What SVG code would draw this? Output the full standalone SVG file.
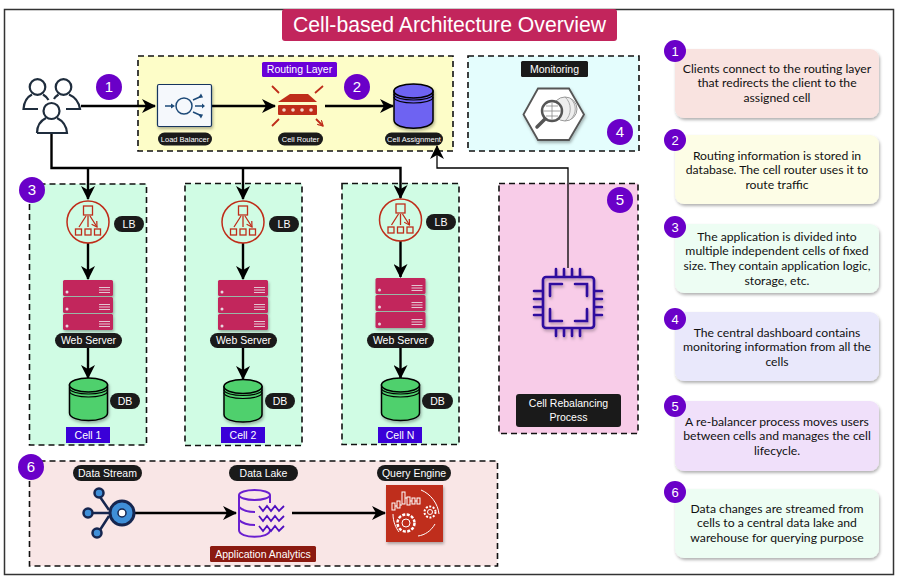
<svg xmlns="http://www.w3.org/2000/svg" width="902" height="583" viewBox="0 0 902 583">
<style>
text{font-family:"Liberation Sans",Arial,sans-serif;text-anchor:middle}
.zone{stroke:#111;stroke-width:1.6;stroke-dasharray:6 4}
.pill{fill:#1a1a1a}
.lt{fill:#fff;font-size:10.5px}
.st{fill:#fff;font-size:7.5px}
.badge{fill:#6a00c8}
.bt{fill:#fff;font-size:15px}
.card{filter:url(#sh)}
.ct{font-family:"Lato","Open Sans",sans-serif;font-size:12.2px;fill:#111}
.conn{fill:none;stroke:#000;stroke-width:2.4}
.thin{fill:none;stroke:#000;stroke-width:1.3}
.red{fill:none;stroke:#bf2d1a}
.chip{fill:none;stroke:#2e0f9e;stroke-width:2.6;stroke-linecap:round}
</style>
<defs>
<filter id="sh" x="-10%" y="-10%" width="125%" height="130%"><feDropShadow dx="1" dy="2" stdDeviation="1.5" flood-color="#000" flood-opacity=".3"/></filter>
<marker id="ah" viewBox="0 0 14 14" refX="13" refY="7" markerWidth="14" markerHeight="14" markerUnits="userSpaceOnUse" orient="auto"><path d="M0 0L14 7L0 14L4 7Z" fill="#000"/></marker>
<marker id="rh" viewBox="0 0 8 8" refX="7" refY="4" markerWidth="7" markerHeight="7" markerUnits="userSpaceOnUse" orient="auto"><path d="M1 .5L7 4L1 7.5" fill="none" stroke="#bf2d1a" stroke-width="1.4"/></marker>
<g id="lbIcon">
<circle cx="0" cy="0" r="21" fill="none" stroke="#bf2d1a" stroke-width="1.5"/>
<g class="red" stroke-width="1.3">
<rect x="-4.5" y="-16" width="9" height="9"/>
<rect x="-12.5" y="7" width="6" height="6"/><rect x="-3" y="7" width="6" height="6"/><rect x="6.500" y="7" width="6" height="6"/>
<path d="M-2-6L-9 5M0-6V5M2-6L9 5" marker-end="url(#rh)"/>
</g>
</g>
<g id="server">
<g fill="#c2255c" filter="url(#sh)"><rect x="-25" y="0" width="50" height="16" rx="1.500"/><rect x="-25" y="17" width="50" height="16" rx="1.500"/><rect x="-25" y="34" width="50" height="16" rx="1.500"/></g>
<g fill="#e8d8e0"><circle cx="-21" cy="12" r="1.500"/><circle cx="-21" cy="29" r="1.500"/><circle cx="-21" cy="46" r="1.500"/></g>
<path d="M11 7.500H22M11 10H22M11 12.500H22M11 24.500H22M11 27H22M11 29.500H22M11 41.500H22M11 44H22M11 46.500H22" stroke="#e8d8e0" stroke-width=".9"/>
</g>
<g id="db">
<g filter="url(#sh)"><path d="M-19 7V35C-19 45 19 45 19 35V7Z" fill="#4fd06d" stroke="#000" stroke-width="1.500"/><ellipse cx="0" cy="7" rx="19" ry="7" fill="#4fd06d" stroke="#000" stroke-width="1.500"/></g>
<path d="M-19 10C-19 18 19 18 19 10M-19 13C-19 21 19 21 19 13" fill="none" stroke="#000" stroke-width="1.200"/>
</g>
</defs>
<rect width="902" height="583" fill="#fff"/>
<rect id="frame" x="4.500" y="9.500" width="889" height="565" fill="#fff" stroke="#333" stroke-width="1.500"/>
<g id="title"><rect x="282" y="9" width="335" height="32" rx="3" fill="#c2255c"/><text x="449.500" y="32" font-size="21.200" fill="#fff">Cell-based Architecture Overview</text></g>

<g id="routing-zone"><rect class="zone" x="138" y="56" width="315" height="95" fill="#fdfdc8"/></g>
<g id="monitoring-zone"><rect class="zone" x="468" y="56" width="171" height="95" fill="#e4fdfd"/></g>
<g id="cell1-zone"><rect class="zone" x="29.500" y="184" width="117" height="261" fill="#d0fce4"/></g>
<g id="cell2-zone"><rect class="zone" x="185" y="183.500" width="117" height="262" fill="#d0fce4"/></g>
<g id="cellN-zone"><rect class="zone" x="342" y="183.500" width="117" height="261" fill="#d0fce4"/></g>
<g id="rebalance-zone"><rect class="zone" x="499" y="183.500" width="139" height="250" fill="#f8cce8"/></g>
<g id="analytics-zone"><rect class="zone" x="29.500" y="461" width="468" height="105" fill="#f9e6e6"/></g>

<g id="connectors">
<path class="conn" d="M81 106H155" marker-end="url(#ah)"/>
<path class="conn" d="M212 106H275" marker-end="url(#ah)"/>
<path class="conn" d="M325 106H393" marker-end="url(#ah)"/>
<path class="conn" d="M51.500 133V168H400.500V198" marker-end="url(#ah)"/>
<path class="conn" d="M88 168V199" marker-end="url(#ah)"/>
<path class="conn" d="M243 168V199" marker-end="url(#ah)"/>
<path class="thin" d="M568 268V168H437V146" marker-end="url(#ah)"/>
<path class="conn" d="M88 243V279" marker-end="url(#ah)"/>
<path class="conn" d="M243 243V279" marker-end="url(#ah)"/>
<path class="conn" d="M400.500 241V277" marker-end="url(#ah)"/>
<path class="conn" d="M88 348V378" marker-end="url(#ah)"/>
<path class="conn" d="M243 348V379" marker-end="url(#ah)"/>
<path class="conn" d="M400.500 348V378" marker-end="url(#ah)"/>
<path class="conn" d="M135 513H236" marker-end="url(#ah)"/>
<path class="conn" d="M292 513H385" marker-end="url(#ah)"/>
</g>

<g id="clients" fill="none" stroke="#1f2d3d" stroke-width="2.200">
<circle cx="37.500" cy="87" r="7.800"/><circle cx="63.500" cy="87" r="7.800"/>
<path d="M38 109H23.500C24 102 27 97 32 94.500M43 94.500C45.500 96 47 97.500 48.500 100M54 99C55 97 57 95.500 58.500 94.500M69 94.500C75 97 79 103 80 109H66"/>
<circle cx="51.500" cy="111" r="8" fill="#fff"/>
<path d="M37 133C37 126 40 121 46 118M57 118C63 121 66.500 126 67 133H37" fill="#fff"/>
</g>
<g id="badge1"><circle class="badge" cx="109" cy="87" r="13"/><text class="bt" x="109" y="92">1</text></g>

<g id="routing-label"><rect x="262" y="62" width="75" height="15" rx="1.500" fill="#6a00d8"/><text class="lt" x="299.500" y="73">Routing Layer</text></g>
<g id="load-balancer">
<rect x="157.500" y="84.500" width="54" height="42" rx="1.500" fill="#f5f8fc" stroke="#16355e" stroke-width="1.200" filter="url(#sh)"/>
<g fill="none" stroke="#1d4a78" stroke-width="1.500"><circle cx="184" cy="106" r="8"/><path d="M165 106H173M195 106H204M193 100L202 96M193 112L202 116"/></g>
<path d="M171 103.500L175 106L171 108.500ZM201 93.500L203 97.500L198 98ZM202 103.500L205 106L202 108.500ZM198 114L203 114.500L201 118.500Z" fill="#1d4a78"/>
<rect class="pill" x="158" y="132.500" width="54" height="13" rx="6.500"/><text class="st" x="185" y="141.500">Load Balancer</text>
</g>
<g id="cell-router">
<path d="M278 102L290 94H308L317 102Z" fill="#bf2d1a"/><rect x="278" y="105" width="39" height="10" rx="1" fill="#bf2d1a"/>
<g fill="#f4d6c8"><circle cx="284" cy="110" r="1.800"/><circle cx="293" cy="110" r="1.800"/><circle cx="302" cy="110" r="1.800"/><circle cx="311" cy="110" r="1.800"/></g>
<path d="M279 93L272 86M315 93L323 86M279 119L272 126M316 119L323 126" stroke="#bf2d1a" stroke-width="1.800" fill="none" marker-end="url(#rh)"/>
<rect class="pill" x="278" y="132.500" width="45" height="13" rx="6.500"/><text class="st" x="300.500" y="141.500">Cell Router</text>
</g>
<g id="badge2"><circle class="badge" cx="357" cy="87" r="13"/><text class="bt" x="357" y="92">2</text></g>
<g id="cell-assignment">
<g filter="url(#sh)"><path d="M394 91V120C394 131 433 131 433 120V91Z" fill="#6e63f2" stroke="#000" stroke-width="1.500"/><ellipse cx="413.500" cy="91" rx="19.500" ry="7" fill="#6e63f2" stroke="#000" stroke-width="1.500"/></g>
<path d="M394 94C394 102 433 102 433 94M394 97C394 105 433 105 433 97" fill="none" stroke="#000" stroke-width="1.200"/>
<rect class="pill" x="385" y="132.500" width="58" height="13" rx="6.500"/><text class="st" x="414" y="141.500">Cell Assignment</text>
</g>

<g id="monitoring">
<rect x="521" y="61" width="67" height="16" rx="1.500" fill="#1a1a1a"/><text class="lt" x="554.500" y="73">Monitoring</text>
<path d="M523.500 114.500L538 88.500H569L584 114.500L569 140H538Z" fill="#fff" stroke="#555" stroke-width="1.800" filter="url(#sh)"/>
<circle cx="565" cy="109" r="12" fill="#eee" stroke="#999" stroke-width="1"/>
<path d="M565 97C572 103 572 115 565 121M570 98C577 104 577 114 570 120" fill="none" stroke="#999" stroke-width=".8"/>
<circle cx="552" cy="111" r="10" fill="#fff" stroke="#555" stroke-width="2.400"/>
<path d="M543 111H561M552 102V120M546 106H558M546 116H558" stroke="#888" stroke-width=".8"/>
<path d="M545 119L537 127" stroke="#555" stroke-width="3.500" stroke-linecap="round"/>
</g>
<g id="badge4"><circle class="badge" cx="620" cy="132" r="13"/><text class="bt" x="620" y="137">4</text></g>

<g id="badge3"><circle class="badge" cx="32" cy="190" r="13"/><text class="bt" x="32" y="195">3</text></g>
<g id="cell1">
<use href="#lbIcon" x="88" y="222"/>
<rect class="pill" x="114" y="216" width="30" height="16" rx="8"/><text class="lt" x="129" y="228">LB</text>
<use href="#server" x="88" y="280"/>
<rect class="pill" x="55" y="333" width="67" height="15" rx="7.500"/><text class="lt" x="88.500" y="344">Web Server</text>
<use href="#db" x="88.500" y="378"/>
<rect class="pill" x="110" y="393" width="30" height="16" rx="8"/><text class="lt" x="125" y="405">DB</text>
<rect x="66" y="427" width="44" height="16" fill="#3a00d8"/><text class="lt" x="88" y="439">Cell 1</text>
</g>
<g id="cell2">
<use href="#lbIcon" x="243" y="222"/>
<rect class="pill" x="269" y="216" width="30" height="16" rx="8"/><text class="lt" x="284" y="228">LB</text>
<use href="#server" x="243" y="280"/>
<rect class="pill" x="210" y="333" width="67" height="15" rx="7.500"/><text class="lt" x="243.500" y="344">Web Server</text>
<use href="#db" x="243" y="379.500"/>
<rect class="pill" x="265" y="393" width="30" height="16" rx="8"/><text class="lt" x="280" y="405">DB</text>
<rect x="221" y="427" width="44" height="16" fill="#3a00d8"/><text class="lt" x="243" y="439">Cell 2</text>
</g>
<g id="cellN">
<use href="#lbIcon" x="400.500" y="220"/>
<rect class="pill" x="426" y="214" width="30" height="16" rx="8"/><text class="lt" x="441" y="226">LB</text>
<use href="#server" x="400.500" y="278"/>
<rect class="pill" x="367" y="333" width="67" height="15" rx="7.500"/><text class="lt" x="400.500" y="344">Web Server</text>
<use href="#db" x="400.500" y="378"/>
<rect class="pill" x="422" y="393" width="31" height="16" rx="8"/><text class="lt" x="437.500" y="405">DB</text>
<rect x="378" y="427" width="44" height="16" fill="#3a00d8"/><text class="lt" x="400" y="439">Cell N</text>
</g>

<g id="rebalance">
<g filter="url(#sh)"><g class="chip">
<rect x="543" y="277" width="51" height="51" rx="3"/>
<path d="M562 284H550V296M575 284H587V296M562 321H550V309M575 321H587V309"/>
<path d="M556 269V276M564 269V276M572 269V276M580 269V276M556 329V336M564 329V336M572 329V336M580 329V336M534 291H542M534 299H542M534 307H542M534 315H542M595 291H602M595 299H602M595 307H602M595 315H602"/>
</g></g>
<rect x="516" y="394" width="105" height="33" rx="3" fill="#1a1a1a"/>
<text class="lt" x="568.500" y="407">Cell Rebalancing</text><text class="lt" x="568.500" y="421">Process</text>
</g>
<g id="badge5"><circle class="badge" cx="620" cy="200" r="13"/><text class="bt" x="620" y="205">5</text></g>

<g id="badge6"><circle class="badge" cx="31" cy="467" r="13"/><text class="bt" x="31" y="472">6</text></g>
<g id="data-stream">
<rect class="pill" x="73" y="465" width="69" height="16" rx="8"/><text class="lt" x="107.500" y="477">Data Stream</text>
<path d="M98 494L109 510M88 513H110M98 533L109 516" stroke="#16264f" stroke-width="2.500" fill="none"/>
<g fill="#3f8fd8" stroke="#16264f" stroke-width="2.500"><circle cx="99" cy="493" r="4.500"/><circle cx="88" cy="513" r="4.500"/><circle cx="97" cy="533" r="4.500"/></g>
<circle cx="122" cy="513" r="12" fill="#3f8fd8" stroke="#16264f" stroke-width="3"/>
<circle cx="122" cy="513" r="4" fill="#fff" stroke="#16264f" stroke-width="1.500"/>
</g>
<g id="data-lake" fill="none" stroke="#6a1fd0" stroke-width="2">
<rect class="pill" x="229" y="465" width="69" height="16" rx="8" stroke="none"/><text class="lt" x="263.500" y="477" stroke="none">Data Lake</text>
<ellipse cx="254.500" cy="495" rx="15.500" ry="5"/>
<path d="M239 495V530C239 539 270 539 270 530M239 507C243 511 250 512 255 512M239 520C243 524 250 525 255 525M270 495V503"/>
<path d="M259 506L263 511L267 506L271 511L275 506L279 511L284 506M259 516L263 521L267 516L271 521L275 516L279 521L284 516M259 526L263 531L267 526L271 531L275 526L279 531L284 526" stroke="#5010c0" stroke-width="1.800"/>
<rect x="210" y="546" width="106" height="16" rx="1.500" fill="#8b1a10" stroke="none"/><text class="lt" x="263" y="558" stroke="none">Application Analytics</text>
</g>
<g id="query-engine">
<rect class="pill" x="377" y="465" width="74" height="16" rx="8"/><text class="lt" x="414" y="477">Query Engine</text>
<rect x="386" y="485" width="57" height="57" fill="#bf2d1a" filter="url(#sh)"/>
<g fill="none" stroke="#fff" stroke-width="1">
<rect x="392" y="503" width="3" height="7"/><rect x="397" y="501" width="3" height="7"/><rect x="402" y="492" width="3" height="12"/><rect x="407" y="497" width="3" height="8"/><rect x="412" y="498" width="3" height="6"/><rect x="417" y="498" width="3" height="6"/>
<path d="M395 506H397M400 505H402M405 498H407M410 501H412M415 501H417"/>
<circle cx="406" cy="523" r="4"/><circle cx="406" cy="523" r="8.500" stroke-width="2.500" stroke-dasharray="3 1.500"/>
<circle cx="430" cy="512" r="2.500"/><circle cx="430" cy="512" r="5.500" stroke-width="2" stroke-dasharray="2 1.500"/>
<path d="M421 490C431 494 438 504 439 514M435 524C431 531 425 535 418 536M393 514C393 522 396 528 399 532"/>
</g>
</g>

<g id="note1"><rect class="card" x="675" y="49" width="204" height="69" rx="9" fill="#f9e3e0"/><text class="ct" x="777" y="73">Clients connect to the routing layer</text><text class="ct" x="777" y="87">that redirects the client to the</text><text class="ct" x="777" y="102">assigned cell</text><circle class="badge" cx="675" cy="51" r="11"/><text class="bt" x="675" y="56" style="font-size:13px">1</text></g>
<g id="note2"><rect class="card" x="675" y="135" width="204" height="69" rx="9" fill="#fdfde6"/><text class="ct" x="777" y="160">Routing information is stored in</text><text class="ct" x="777" y="174">database. The cell router uses it to</text><text class="ct" x="777" y="189">route traffic</text><circle class="badge" cx="675" cy="140" r="11"/><text class="bt" x="675" y="145" style="font-size:13px">2</text></g>
<g id="note3"><rect class="card" x="675" y="224" width="204" height="69" rx="9" fill="#edfdf3"/><text class="ct" x="777" y="241">The application is divided into</text><text class="ct" x="777" y="255">multiple independent cells of fixed</text><text class="ct" x="777" y="270">size. They contain application logic,</text><text class="ct" x="777" y="285">storage, etc.</text><circle class="badge" cx="675" cy="227" r="11"/><text class="bt" x="675" y="232" style="font-size:13px">3</text></g>
<g id="note4"><rect class="card" x="675" y="312" width="204" height="69" rx="9" fill="#e9e8fb"/><text class="ct" x="777" y="337">The central dashboard contains</text><text class="ct" x="777" y="351">monitoring information from all the</text><text class="ct" x="777" y="366">cells</text><circle class="badge" cx="675" cy="319" r="11"/><text class="bt" x="675" y="324" style="font-size:13px">4</text></g>
<g id="note5"><rect class="card" x="675" y="401" width="204" height="70" rx="9" fill="#f0e0fa"/><text class="ct" x="777" y="426">A re-balancer process moves users</text><text class="ct" x="777" y="440">between cells and manages the cell</text><text class="ct" x="777" y="455">lifecycle.</text><circle class="badge" cx="675" cy="406" r="11"/><text class="bt" x="675" y="411" style="font-size:13px">5</text></g>
<g id="note6"><rect class="card" x="675" y="489" width="204" height="69" rx="9" fill="#edfdf3"/><text class="ct" x="777" y="513">Data changes are streamed from</text><text class="ct" x="777" y="527">cells to a central data lake and</text><text class="ct" x="777" y="542">warehouse for querying purpose</text><circle class="badge" cx="675" cy="492" r="11"/><text class="bt" x="675" y="497" style="font-size:13px">6</text></g>
</svg>
